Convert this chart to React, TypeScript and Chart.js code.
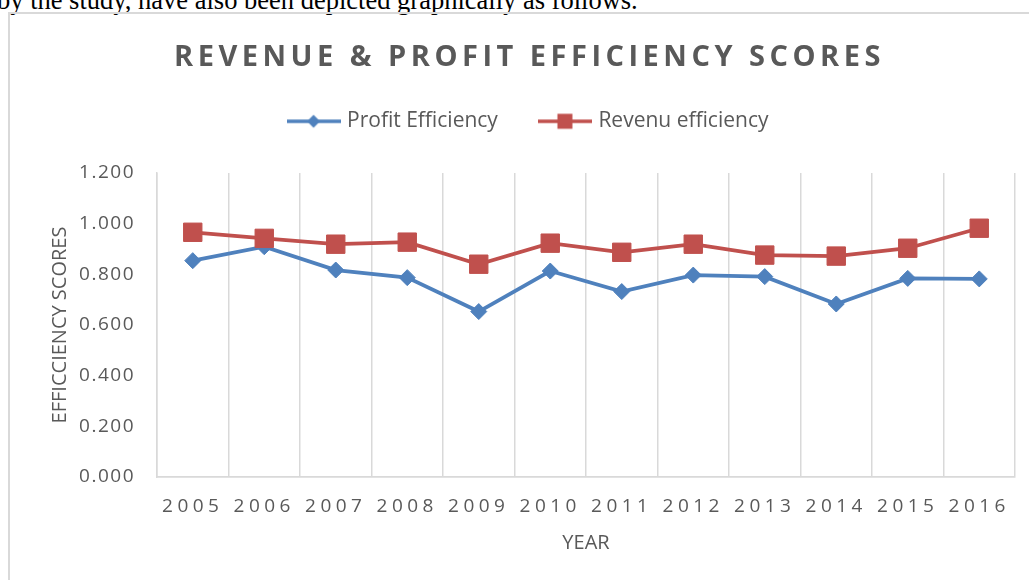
import React, { useEffect, useRef } from 'react';
import { Chart, registerables } from 'chart.js';

Chart.register(...registerables);

const years = ['2005', '2006', '2007', '2008', '2009', '2010', '2011', '2012', '2013', '2014', '2015', '2016'];
const profitEfficiency = [0.854, 0.909, 0.817, 0.787, 0.653, 0.813, 0.732, 0.797, 0.791, 0.683, 0.784, 0.782];
const revenueEfficiency = [0.966, 0.942, 0.919, 0.927, 0.84, 0.923, 0.887, 0.919, 0.876, 0.872, 0.903, 0.982];
const yMin = 0;
const yMax = 1.2;
const yStep = 0.2;

const chartTitle = 'REVENUE & PROFIT EFFICIENCY SCORES';
const seriesNames = ['Profit Efficiency', 'Revenu efficiency'];
const xTitle = 'YEAR';
const yTitle = 'EFFICCIENCY SCORES';
const introText = 'by the study, have also been depicted graphically as follows.';

const BLUE = '#4F81BD';
const RED = '#C0504D';
const TEXT = '#595959';
const GRID = '#D9D9D9';
const FONT = '"Open Sans", "Noto Sans", sans-serif';

function makeIcon(color: string, kind: 'diamond' | 'square', lineWidth: number, s: number) {
  const c = document.createElement('canvas');
  c.width = 54;
  c.height = 20;
  const g = c.getContext('2d')!;
  g.strokeStyle = color;
  g.lineWidth = lineWidth;
  g.beginPath();
  g.moveTo(0, 10);
  g.lineTo(54, 10);
  g.stroke();
  g.fillStyle = color;
  g.beginPath();
  if (kind === 'diamond') {
    g.moveTo(27, 10 - s);
    g.lineTo(27 + s, 10);
    g.lineTo(27, 10 + s);
    g.lineTo(27 - s, 10);
    g.closePath();
  } else {
    g.rect(27 - s, 10 - s, 2 * s, 2 * s);
  }
  g.fill();
  return c;
}

function wrapSpacing(obj: any, method: string, ctx: CanvasRenderingContext2D, spacing: string) {
  if (!obj || obj['__ls_' + method]) return;
  const orig = obj[method];
  obj[method] = function (...args: any[]) {
    ctx.save();
    (ctx as any).letterSpacing = spacing;
    const r = orig.apply(this, args);
    ctx.restore();
    return r;
  };
  obj['__ls_' + method] = true;
}

const spacingPlugin = {
  id: 'letterSpacingPlugin',
  beforeDraw(chart: any) {
    const ctx = chart.ctx;
    wrapSpacing(chart.scales.x, 'drawLabels', ctx, '4.5px');
    wrapSpacing(chart.scales.y, 'drawLabels', ctx, '1.5px');
    wrapSpacing(chart.titleBlock, 'draw', ctx, '4.5px');
  },
};

export default function App() {
  const ref = useRef<HTMLCanvasElement>(null);

  useEffect(() => {
    if (!ref.current) return;
    const icons = [makeIcon(BLUE, 'diamond', 3.5, 6.5), makeIcon(RED, 'square', 3.5, 7.5)];
    const chart = new Chart(ref.current, {
      type: 'line',
      data: {
        labels: years,
        datasets: [
          {
            label: seriesNames[0],
            data: profitEfficiency,
            borderColor: BLUE,
            backgroundColor: BLUE,
            borderWidth: 3.8,
            pointStyle: 'rectRot',
            pointRadius: 8,
            pointBorderWidth: 1,
            pointBackgroundColor: BLUE,
            pointBorderColor: BLUE,
            tension: 0,
            order: 2,
          },
          {
            label: seriesNames[1],
            data: revenueEfficiency,
            borderColor: RED,
            backgroundColor: RED,
            borderWidth: 3.8,
            pointStyle: 'rect',
            pointRadius: 13,
            pointBorderWidth: 1,
            pointBackgroundColor: RED,
            pointBorderColor: RED,
            tension: 0,
            order: 1,
          },
        ],
      },
      options: {
        responsive: false,
        animation: false,
        devicePixelRatio: 1,
        layout: { padding: { left: 44, right: 14, top: 0, bottom: 0 } },
        plugins: {
          tooltip: { enabled: false },
          title: {
            display: true,
            text: chartTitle,
            color: TEXT,
            font: { family: FONT, size: 29, weight: 'bold' },
            padding: { top: 40, bottom: -8 },
          },
          legend: {
            display: true,
            position: 'top',
            labels: {
              usePointStyle: true,
              pointStyleWidth: 46,
              padding: 44,
              color: TEXT,
              font: { family: FONT, size: 21 },
              generateLabels: (c: any) =>
                c.data.datasets.map((ds: any, i: number) => ({
                  text: ds.label,
                  pointStyle: icons[i],
                  fillStyle: ds.borderColor,
                  strokeStyle: ds.borderColor,
                  lineWidth: 0,
                  hidden: false,
                  datasetIndex: i,
                  fontColor: TEXT,
                })),
            },
          },
          subtitle: {
            display: true,
            text: '',
            weight: 500,
            font: { size: 10 },
            padding: { top: 0, bottom: 19.2 },
          },
        },
        scales: {
          x: {
            type: 'category',
            offset: true,
            grid: { display: true, offset: true, color: GRID, lineWidth: 1.5, drawTicks: false },
            border: { display: true, color: GRID, width: 1.8 },
            ticks: {
              color: TEXT,
              font: { family: FONT, size: 19 },
              padding: 18.6,
              autoSkip: false,
              maxRotation: 0,
            },
            title: {
              display: true,
              text: xTitle,
              color: TEXT,
              font: { family: FONT, size: 20 },
              padding: { top: 0, bottom: 25 },
            },
            afterFit: (s: any) => {
              s.height = 103;
            },
          },
          y: {
            type: 'linear',
            min: yMin,
            max: yMax,
            grid: { display: false, drawTicks: false },
            border: { display: true, color: GRID, width: 1.5 },
            ticks: {
              stepSize: yStep,
              color: TEXT,
              font: { family: FONT, size: 19 },
              padding: 22,
              callback: (v: any) => Number(v).toFixed(3),
            },
            title: {
              display: true,
              text: yTitle,
              color: TEXT,
              font: { family: FONT, size: 20 },
              padding: { top: 4, bottom: 0 },
            },
            afterFit: (s: any) => {
              s.width = 113;
            },
          },
        },
      },
      plugins: [spacingPlugin],
    });
    chart.draw();
    return () => chart.destroy();
  }, []);

  return (
    <div style={{ position: 'fixed', left: 0, top: 0, width: 1029, height: 580, overflow: 'hidden', background: '#fff' }}>
      <div
        style={{
          position: 'absolute',
          left: -3,
          top: -13,
          fontFamily: '"Liberation Serif", "DejaVu Serif", serif',
          fontSize: 26.5,
          lineHeight: '26.5px',
          whiteSpace: 'nowrap',
          color: '#000',
        }}
      >
        {introText}
      </div>
      <div
        style={{
          position: 'absolute',
          left: 8,
          top: 12,
          width: 1100,
          height: 700,
          border: '2px solid #D9D9D9',
          boxSizing: 'border-box',
        }}
      />
      <canvas ref={ref} width={1029} height={580} style={{ position: 'absolute', left: 0, top: 0 }} />
    </div>
  );
}
